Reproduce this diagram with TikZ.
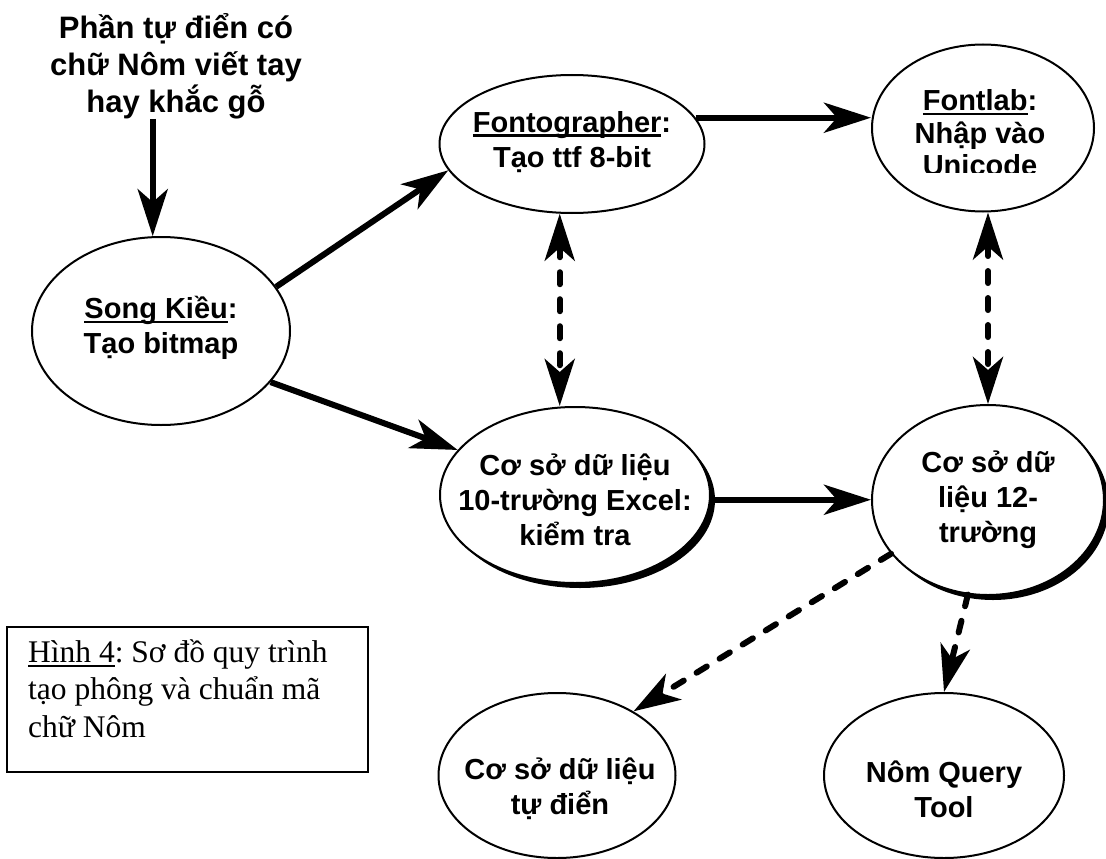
\documentclass[tikz,border=0pt]{standalone}
\usepackage{fontspec}
\setmainfont{Liberation Serif}
\setsansfont{Liberation Sans}
\usetikzlibrary{arrows.meta, shapes.geometric, shadows}
\frenchspacing
\newsavebox{\ulbox}
\newcommand{\ulword}[2][2.5pt]{\sbox{\ulbox}{#2}\rlap{\rule[-4.5pt]{\wd\ulbox}{#1}}\usebox{\ulbox}}
\tikzset{
  tool node/.style={
    ellipse,
    draw,
    line width=2pt,
    fill=white,
    inner sep=0pt,
  },
  base node/.style={
    tool node,
    drop shadow={opacity=1, fill=black, shadow xshift=5pt, shadow yshift=-5pt},
  },
  tool text/.style={
    font=\sffamily\bfseries\fontsize{29}{35}\selectfont,
    align=center,
    inner sep=0pt,
  },
  cap text/.style={
    font=\rmfamily\fontsize{31.5}{37.5}\selectfont,
    align=left,
    inner sep=0pt,
  },
  flow/.style={line width=6pt, ->},
  check flow/.style={flow, line cap=round, dash pattern=on 12pt off 15pt},
}

\begin{document}
\begin{tikzpicture}[x=1pt, y=-1pt, >={Stealth[length=47pt, width=30pt, inset=13pt]}]
        \useasboundingbox (0,0) rectangle (1106,859);

        % ellipses
        \node[tool node, minimum width=258pt, minimum height=188pt] (song)    at (161,331) {};
        \node[tool node, minimum width=265pt, minimum height=138pt] (fonto)   at (572,144) {};
        \node[tool node, minimum width=222pt, minimum height=167pt] (fontlab) at (983,128) {};
        \node[base node, minimum width=270pt, minimum height=176pt] (excel)   at (575,495) {};
        \node[base node, minimum width=232pt, minimum height=190pt] (db12)    at (988,500) {};
        \node[tool node, minimum width=237pt, minimum height=165pt] (dict)    at (557,775.5) {};
        \node[tool node, minimum width=240pt, minimum height=165pt] (query)   at (944,775.5) {};

        % texts
        \node[tool text, font=\sffamily\bfseries\fontsize{31}{37}\selectfont] (source) at (176,66)
          {Phần tự điển có\\chữ Nôm viết tay\\hay khắc gỗ};
        \node[tool text] (song-t)  at (161,328) {\ulword{Song Kiều}:\\Tạo bitmap};
        \node[tool text] (fonto-t) at (572,142) {\ulword{Fontographer}:\\Tạo ttf 8-bit};
        \begin{scope}
          \clip (850,40) rectangle (1106,172);
          \node[tool text, font=\sffamily\bfseries\fontsize{29}{32.5}\selectfont] (fontlab-t) at (980,133)
            {\ulword{Fontlab}:\\Nhập vào\\Unicode};
        \end{scope}
        \node[tool text] (excel-t) at (575,500) {Cơ sở dữ liệu\\10-trường Excel:\\kiểm tra};
        \node[tool text] (db12-t)  at (988,500) {Cơ sở dữ\\liệu 12-\\trường};
        \node[tool text] (dict-t)  at (560,789) {Cơ sở dữ liệu\\tự điển};
        \node[tool text] (query-t) at (944,789) {Nôm Query\\Tool};

        % caption
        \node[draw, line width=1.5pt, minimum width=361pt, minimum height=145pt] (caption) at (187.5,699.5) {};
        \node[cap text, anchor=north west] (caption-t) at (28,639)
          {\ulword[1.5pt]{Hình 4}: Sơ đồ quy trình\\tạo phông và chuẩn mã\\chữ Nôm};

        % connectors
        \draw[flow]        (song.95 |- source.south) -- (song.95);
        \draw[flow]        (song.21) -- (fonto.192);
        \draw[flow]        (song.-25) -- (excel.159);
        \draw[flow]        (fonto.12) -- (fonto.12 -| fontlab.west);
        \draw[flow]        (excel.-2) -- (excel.-2 -| db12.west);
        \draw[check flow, <->] (fonto.260) -- (fonto.260 |- excel.north);
        \draw[check flow, <->] (db12.north |- fontlab.south) -- (db12.north);
        \draw[check flow]  (db12.209) -- (dict.40);
        \draw[check flow]  (db12.258) -- (query.north);
\end{tikzpicture}
\end{document}
